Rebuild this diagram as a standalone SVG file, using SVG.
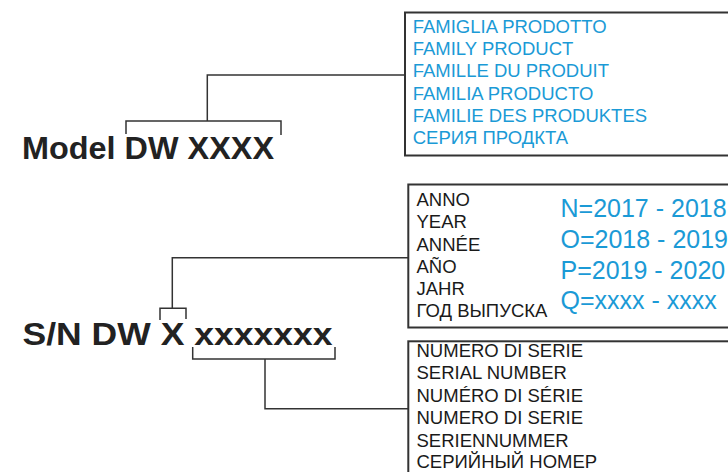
<svg xmlns="http://www.w3.org/2000/svg" width="728" height="472" viewBox="0 0 728 472">
<style>
.box{fill:#fff;stroke:#333;stroke-width:2}
.ln{fill:none;stroke:#333;stroke-width:1.5}
.big{font-family:"Liberation Sans",Arial,sans-serif;font-weight:bold;font-size:31px;fill:#222}
.blue{font-family:"Liberation Sans",Arial,sans-serif;font-size:18.5px;fill:#1b9ad6}
.blk{font-family:"Liberation Sans",Arial,sans-serif;font-size:18.5px;fill:#1a1a1a}
.yr{font-family:"Liberation Sans",Arial,sans-serif;font-size:25px;fill:#1b9ad6}
</style>
<rect width="728" height="472" fill="#fff"/>
<g id="connectors">
<path class="ln" d="M126,134 V121 H281 V135"/>
<path class="ln" d="M207.3,121 V75 H405"/>
<path class="ln" d="M160,320 V308.3 H186 V319"/>
<path class="ln" d="M172.3,308.3 V257.7 H408"/>
<path class="ln" d="M192.7,347 V359 H335 V347"/>
<path class="ln" d="M265,359 V408.7 H408"/>
</g>
<g id="model">
<text class="big" x="22" y="159" textLength="252" lengthAdjust="spacingAndGlyphs">Model DW XXXX</text>
</g>
<g id="serial">
<text class="big" x="22.5" y="345" textLength="310" lengthAdjust="spacingAndGlyphs">S/N DW X xxxxxxx</text>
</g>
<g id="family-box">
<rect class="box" x="405" y="12.5" width="340" height="143"/>
<text class="blue"><tspan x="412.7" y="32.7">FAMIGLIA PRODOTTO</tspan><tspan x="412.7" y="55">FAMILY PRODUCT</tspan><tspan x="412.7" y="77.3">FAMILLE DU PRODUIT</tspan><tspan x="412.7" y="99.6">FAMILIA PRODUCTO</tspan><tspan x="412.7" y="122">FAMILIE DES PRODUKTES</tspan><tspan x="412.7" y="144.3">СЕРИЯ ПРОДКТА</tspan></text>
</g>
<g id="year-box">
<rect class="box" x="408.3" y="184.5" width="340" height="143"/>
<text class="blk"><tspan x="416.5" y="205.7">ANNO</tspan><tspan x="416.5" y="227.9">YEAR</tspan><tspan x="416.5" y="250.6">ANNÉE</tspan><tspan x="416.5" y="272.9">AÑO</tspan><tspan x="416.5" y="294.8">JAHR</tspan><tspan x="416.5" y="317.3">ГОД ВЫПУСКА</tspan></text>
<text class="yr"><tspan x="560.5" y="217.3">N=2017 - 2018</tspan><tspan x="560.5" y="248.3">O=2018 - 2019</tspan><tspan x="560.5" y="279">P=2019 - 2020</tspan><tspan x="560.5" y="309.3">Q=xxxx - xxxx</tspan></text>
</g>
<g id="serial-box">
<rect class="box" x="408.3" y="341.3" width="340" height="150"/>
<text class="blk"><tspan x="416.5" y="356.7">NUMERO DI SERIE</tspan><tspan x="416.5" y="379.3">SERIAL NUMBER</tspan><tspan x="416.5" y="401.7">NUMÉRO DI SÉRIE</tspan><tspan x="416.5" y="424">NUMERO DI SERIE</tspan><tspan x="416.5" y="446.5">SERIENNUMMER</tspan><tspan x="416.5" y="468.3">СЕРИЙНЫЙ НОМЕР</tspan></text>
</g>
</svg>
